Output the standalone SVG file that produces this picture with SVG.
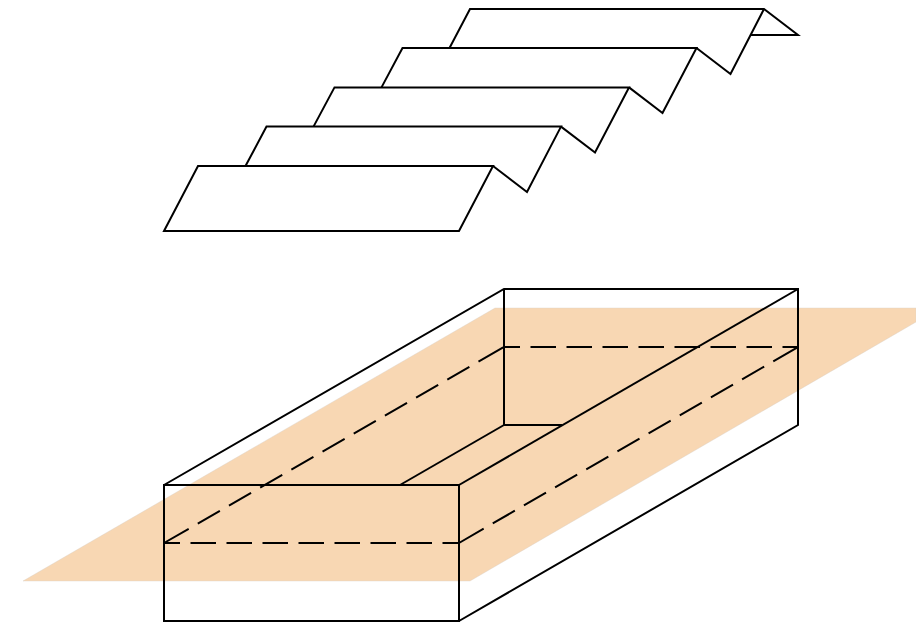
<svg xmlns="http://www.w3.org/2000/svg" width="916" height="622" viewBox="0 0 916 622">
<style>.l{fill:none;stroke:#000;stroke-width:2;stroke-linejoin:miter}.h{stroke-dasharray:25.5 10.5;stroke-dashoffset:9.5}.v{stroke-dasharray:28.5 10.5 25.5 10.5 25.5 10.5 25.5 10.5 25.5 10.5 25.5 10.5 25.5 10.5 25.5 10.5 25.5 10.5 25.5 10.5 28.5 10}</style>
<rect width="916" height="622" fill="#fff"/>
<polygon points="23,581 495,308 916,308 916,322 470,581" fill="#f8d7b3" stroke="#d9d0c6" stroke-width="0.4"/>
<g id="box" class="l">
<path d="M164,485 L504,289 H798"/>
<path d="M798,289 L459,485"/>
<path d="M164,485 H459 V621 H164 Z"/>
<path d="M459,621 L798,425 V288"/>
<path d="M504,289 V425 H562"/>
<path d="M504,425 L400,485"/>
<path class="h" d="M164,543 H459"/>
<path class="h" d="M504,347 H798"/>
<path class="v" d="M459,543 L798,347"/>
<path class="v" d="M164,543 L504,347"/>
</g>
<g id="fold" class="l">
<path d="M449.5,48 L470,9 H764 L798,35 H751"/>
<path d="M764,9 L730.5,74 L696.5,48"/>
<path d="M381.5,87.4 L402.5,48 H696.5 L662.5,113 L629,87.4"/>
<path d="M313.5,126.6 L334.5,87.4 H629 L595,152.5 L561,126.6"/>
<path d="M245.5,166 L266.5,126.6 H561 L527,192 L493,166"/>
<path d="M164,231 L198,166 H493 L459,231 Z"/>
</g>
</svg>
